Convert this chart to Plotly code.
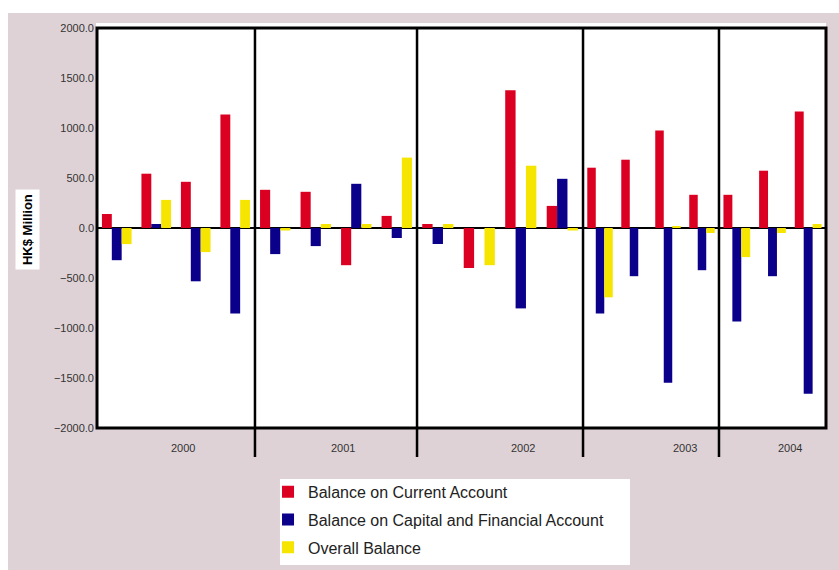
import plotly.graph_objects as go

# ---------------- data ----------------
years = ["2000", "2001", "2002", "2003", "2004"]
quarters_per_year = [4, 4, 4, 4, 3]
quarter_labels = ["Q1", "Q2", "Q3", "Q4"]

current_account = [140, 543, 462, 1136,
                   382, 362, -372, 121,
                   40, -400, 1377, 221,
                   603, 683, 975, 332,
                   332, 573, 1166]
capital_financial = [-322, 40, -533, -854,
                     -261, -181, 442, -100,
                     -160, 0, -804, 492,
                     -854, -482, -1548, -422,
                     -935, -482, -1658]
overall_balance = [-161, 281, -241, 281,
                   -25, 40, 40, 704,
                   40, -372, 623, -25,
                   -693, 0, 15, -50,
                   -291, -50, 40]

series_names = ["Balance on Current Account",
                "Balance on Capital and Financial Account",
                "Overall Balance"]
series_values = [current_account, capital_financial, overall_balance]
y_ticks = [-2000, -1500, -1000, -500, 0, 500, 1000, 1500, 2000]

# ---------------- styling / layout ----------------
colors = ["#DB0021", "#0B008A", "#F5E500"]
bg_pink = "#DFD2D6"
font_family = "Arial, 'Liberation Sans', sans-serif"

# year segment boundaries as fractions of the plot width
seg_edges = [0.0, 0.2167, 0.4390, 0.6667, 0.8532, 1.0]
year_label_x = [0.118, 0.3374, 0.584, 0.8066, 0.9506]

fig = go.Figure()

start = 0
for i, (yr, n) in enumerate(zip(years, quarters_per_year)):
    xa = "x" if i == 0 else f"x{i+1}"
    for name, vals, col in zip(series_names, series_values, colors):
        fig.add_trace(go.Bar(
            x=quarter_labels[:n],
            y=vals[start:start + n],
            name=name,
            marker=dict(color=col, line=dict(width=0)),
            xaxis=xa, yaxis="y",
            legendgroup=name,
            showlegend=(i == 0),
        ))
    start += n

layout = dict(
    width=831, height=557,
    margin=dict(l=89, r=13, t=15, b=142, autoexpand=False),
    paper_bgcolor=bg_pink,
    plot_bgcolor="white",
    barmode="group",
    bargap=0.25,
    bargroupgap=0,
    font=dict(family=font_family, color="#333333"),
    yaxis=dict(
        domain=[0, 1], anchor="x",
        range=[-2000, 2000],
        tickvals=y_ticks, tickformat=".1f",
        ticks="", showgrid=False, showline=False,
        zeroline=True, zerolinecolor="black", zerolinewidth=2,
        tickfont=dict(size=11, color="#333333"),
        ticklabelstandoff=2,
        fixedrange=True,
    ),
    legend=dict(
        xref="container", yref="container",
        x=0.3129, y=0.171, xanchor="left", yanchor="top",
        bgcolor="rgba(0,0,0,0)", borderwidth=0,
        font=dict(size=16, color="#222222", family=font_family),
        tracegroupgap=4, itemwidth=30,
    ),
    showlegend=True,
)
for i in range(len(years)):
    key = "xaxis" if i == 0 else f"xaxis{i+1}"
    layout[key] = dict(
        domain=[seg_edges[i], seg_edges[i + 1]], anchor="y",
        showticklabels=False, ticks="", showgrid=False,
        showline=False, zeroline=False, fixedrange=True,
    )
fig.update_layout(**layout)

shapes = []
# white strip just above the plot area
shapes.append(dict(type="rect", xref="paper", yref="paper",
                   x0=-0.0014, x1=1.0, y0=1.0, y1=1.0125,
                   fillcolor="white", line=dict(width=0), layer="below"))
# white legend box
shapes.append(dict(type="rect", xref="paper", yref="paper",
                   x0=0.251, x1=0.7311, y0=-0.3425, y1=-0.1275,
                   fillcolor="white", line=dict(width=0), layer="below"))
# outer border
shapes.append(dict(type="rect", xref="paper", yref="paper",
                   x0=0, x1=1, y0=0, y1=1,
                   line=dict(color="black", width=3), layer="above"))
# year separators
for e in seg_edges[1:-1]:
    shapes.append(dict(type="line", xref="paper", yref="paper",
                       x0=e, x1=e, y0=-0.0725, y1=1,
                       line=dict(color="black", width=2.5), layer="above"))
fig.update_layout(shapes=shapes)

annotations = []
for yr, xp in zip(years, year_label_x):
    annotations.append(dict(text=yr, xref="paper", yref="paper",
                            x=xp, y=-0.05, showarrow=False,
                            xanchor="center", yanchor="middle",
                            font=dict(size=11, color="#333333")))
annotations.append(dict(text="<b>HK$ Million</b>", xref="paper", yref="paper",
                        x=-0.096, y=0.495, textangle=-90, showarrow=False,
                        xanchor="center", yanchor="middle",
                        bgcolor="white", borderpad=4,
                        font=dict(size=13, color="black")))
fig.update_layout(annotations=annotations)

fig.write_html("out.html",
               post_script="document.body.style.margin='13px 0 0 8px';")
